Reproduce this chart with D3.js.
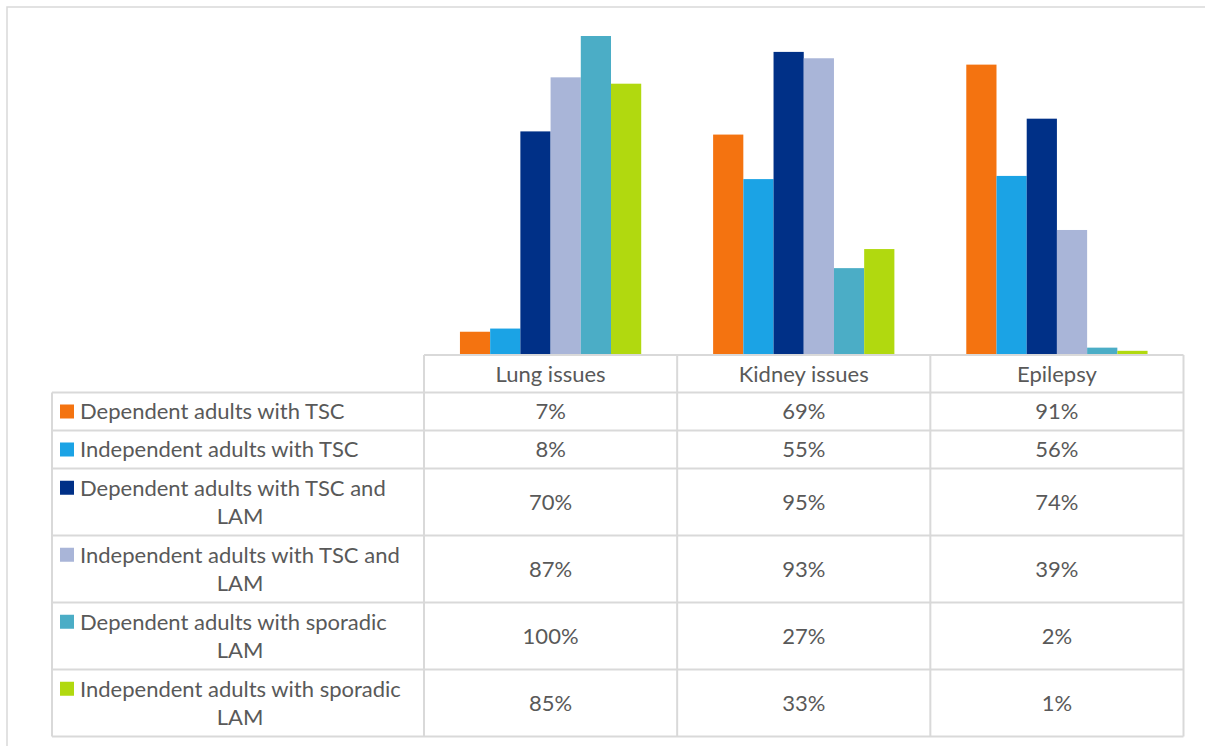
<!DOCTYPE html>
<html>
<head>
<meta charset="utf-8">
<script src="https://cdn.jsdelivr.net/npm/d3@7"></script>
<style>
  html, body { margin: 0; padding: 0; background: #fff; }
  svg { display: block; }
  text { font-family: Lato, "Open Sans", sans-serif; fill: #595959; }
</style>
</head>
<body>
<svg id="chart" width="1205" height="746"></svg>
<script>
// Categories along the x axis (also the data-table column headers)
const categories = ["Lung issues", "Kidney issues", "Epilepsy"];

// Series names (data-table row labels)
const seriesNames = [
  "Dependent adults with TSC",
  "Independent adults with TSC",
  "Dependent adults with TSC and LAM",
  "Independent adults with TSC and LAM",
  "Dependent adults with sporadic LAM",
  "Independent adults with sporadic LAM"
];

// Share of respondents per series, one value per category (fractions)
const depTSC      = [0.07, 0.69, 0.91];
const indTSC      = [0.08, 0.55, 0.56];
const depTSCLAM   = [0.70, 0.95, 0.74];
const indTSCLAM   = [0.87, 0.93, 0.39];
const depSporadic = [1.00, 0.27, 0.02];
const indSporadic = [0.85, 0.33, 0.01];

const seriesValues = [depTSC, indTSC, depTSCLAM, indTSCLAM, depSporadic, indSporadic];
const seriesColors = ["#F47310", "#1BA3E5", "#003087", "#A9B5D8", "#4BADC6", "#B1D90F"];

const svg = d3.select("#chart");
const fmt = d3.format(".0%");

// Outer chart frame
svg.append("rect")
  .attr("x", 7).attr("y", 7).attr("width", 1210).attr("height", 760)
  .attr("fill", "none").attr("stroke", "#d9d9d9").attr("stroke-width", 1.5);

// Plot geometry
const plotLeft = 424, plotRight = 1183.5, baseline = 354, top100 = 36;
const tableLeft = 52;

const x0 = d3.scaleBand().domain(categories).range([plotLeft, plotRight]);
const x1 = d3.scaleBand().domain(d3.range(seriesNames.length))
  .range([0, x0.bandwidth()]).paddingOuter(1.19).paddingInner(0);
const y = d3.scaleLinear().domain([0, 1]).range([baseline, top100]);

// Bars
const groups = svg.append("g").selectAll("g")
  .data(categories).join("g")
  .attr("transform", d => `translate(${x0(d)},0)`);

groups.selectAll("rect")
  .data((c, ci) => seriesValues.map((vals, si) => ({ si, v: vals[ci] })))
  .join("rect")
  .attr("x", d => x1(d.si))
  .attr("y", d => y(d.v))
  .attr("width", x1.bandwidth())
  .attr("height", d => baseline - y(d.v))
  .attr("fill", d => seriesColors[d.si]);

// Data table
const fontSize = 22;
const lineGap = 28.5;
const headerH = 37.5;
const rowH1 = 38, rowH2 = 67;
const labelTextX = 80;
const labelMaxW = 342;

// Measure and wrap the row labels
const measure = svg.append("text").attr("font-size", fontSize).attr("visibility", "hidden");
function wrapLabel(label) {
  const words = label.split(" ");
  const lines = [];
  let cur = "";
  words.forEach(w => {
    const test = cur ? cur + " " + w : w;
    measure.text(test);
    if (measure.node().getComputedTextLength() > labelMaxW && cur) {
      lines.push(cur);
      cur = w;
    } else cur = test;
  });
  lines.push(cur);
  return lines;
}
const wrapped = seriesNames.map(wrapLabel);
measure.remove();

// Row y positions
const tableTop = 355;
const rowTops = [];
let yy = tableTop + headerH;
wrapped.forEach(lines => {
  rowTops.push(yy);
  yy += lines.length > 1 ? rowH2 : rowH1;
});
const tableBottom = yy;

const grid = svg.append("g").attr("stroke", "#d9d9d9").attr("stroke-width", 2);
// Horizontal lines
grid.append("line").attr("x1", plotLeft).attr("x2", plotRight).attr("y1", tableTop).attr("y2", tableTop);
rowTops.concat([tableBottom]).forEach(t => {
  grid.append("line").attr("x1", tableLeft).attr("x2", plotRight).attr("y1", t).attr("y2", t);
});
// Vertical lines
grid.append("line").attr("x1", tableLeft).attr("x2", tableLeft).attr("y1", rowTops[0]).attr("y2", tableBottom);
categories.forEach(c => {
  grid.append("line").attr("x1", x0(c)).attr("x2", x0(c)).attr("y1", tableTop).attr("y2", tableBottom);
});
grid.append("line").attr("x1", plotRight).attr("x2", plotRight).attr("y1", tableTop).attr("y2", tableBottom);

const capHalf = fontSize * 0.36;

// Column headers
svg.append("g").selectAll("text")
  .data(categories).join("text")
  .attr("x", d => x0(d) + x0.bandwidth() / 2)
  .attr("y", tableTop + headerH / 2 + capHalf)
  .attr("text-anchor", "middle")
  .attr("font-size", fontSize)
  .text(d => d);

// Row labels with swatches
const labelCellMid = (tableLeft + plotLeft) / 2 + 2;
wrapped.forEach((lines, si) => {
  const h = lines.length > 1 ? rowH2 : rowH1;
  const mid = rowTops[si] + h / 2;
  const firstY = mid - (lines.length - 1) * lineGap / 2;
  svg.append("rect")
    .attr("x", 60).attr("y", firstY - 7).attr("width", 14).attr("height", 14)
    .attr("fill", seriesColors[si]);
  lines.forEach((ln, li) => {
    svg.append("text")
      .attr("x", li === 0 ? labelTextX : labelCellMid)
      .attr("y", firstY + li * lineGap + capHalf)
      .attr("text-anchor", li === 0 ? "start" : "middle")
      .attr("font-size", fontSize)
      .text(ln);
  });
  // Values
  categories.forEach((c, ci) => {
    svg.append("text")
      .attr("x", x0(c) + x0.bandwidth() / 2)
      .attr("y", mid + capHalf)
      .attr("text-anchor", "middle")
      .attr("font-size", fontSize)
      .text(fmt(seriesValues[si][ci]));
  });
});
</script>
</body>
</html>
